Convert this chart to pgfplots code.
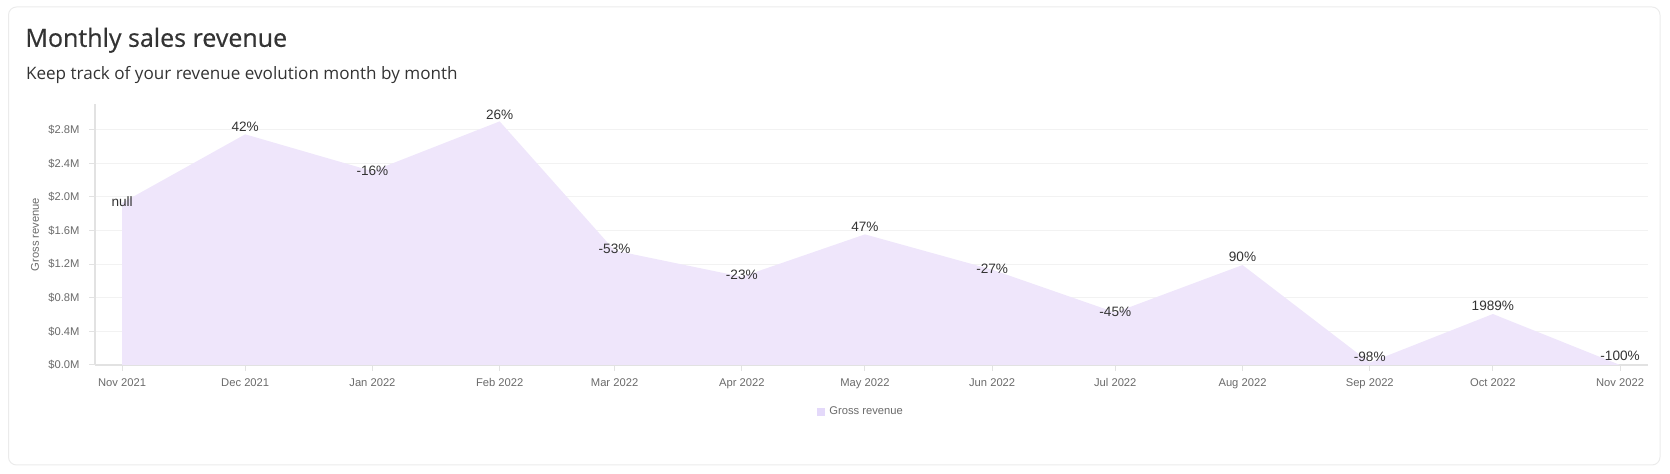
\documentclass[border=0pt]{standalone}
\usepackage{fontspec}
\setmainfont{Open Sans}
\newfontfamily\titlef[FakeBold=0.5]{Open Sans}
\newfontfamily\tickf{Liberation Sans}
\usepackage{pgfplots}
\usepackage{pgfplotstable}
\pgfplotsset{compat=1.18}
\definecolor{lav}{HTML}{EFE6FB}
\definecolor{legsq}{HTML}{E4D9FA}
\definecolor{axgray}{HTML}{E2E2E2}
\definecolor{gridgray}{HTML}{F2F2F2}
\definecolor{tickgray}{HTML}{6A6A6A}
\definecolor{labgray}{HTML}{333333}
\definecolor{titlegray}{HTML}{333333}
\definecolor{cardgray}{HTML}{EBEBEB}
\pgfplotstableread{
day rev lbl dy
0 1.93 null 0.5
30 2.746 42\% 4
61 2.307 -16\% 0
92 2.90 26\% 3.4
120 1.363 -53\% 1
151 1.05 -23\% 1
181 1.555 47\% 4
212 1.135 -27\% 0.5
242 0.625 -45\% 0.5
273 1.19 90\% 4
304 0.029 -98\% 3
334 0.607 1989\% 4
365 0 -100\% 4.5
}\revdata
\begin{document}
\begin{tikzpicture}
\path[use as bounding box] (0,0) rectangle (835pt,237pt);
\draw[cardgray, line width=0.5pt, rounded corners=4pt] (4.25pt,4.5pt) rectangle (830pt,233.5pt);
\node[anchor=base west, inner sep=0, font=\titlef\fontsize{12.5}{15}\selectfont, text=titlegray] at (12.5pt,213.6pt) {Monthly sales revenue};
\node[anchor=base west, inner sep=0, font=\fontsize{8.55}{10}\selectfont, text=titlegray] at (12.8pt,197.3pt) {Keep track of your revenue evolution month by month};
\begin{axis}[
  at={(47.5pt,54.5pt)}, anchor=south west,
  scale only axis, width=776.5pt, height=130.5pt,
  xmin=-6.6, xmax=371.8, ymin=0, ymax=3.107,
  axis x line*=bottom, axis y line*=left,
  axis line style={-, draw=axgray, line width=0.6pt},
  xtick={0,30,61,92,120,151,181,212,242,273,304,334,365},
  xticklabels={Nov 2021,Dec 2021,Jan 2022,Feb 2022,Mar 2022,Apr 2022,May 2022,Jun 2022,Jul 2022,Aug 2022,Sep 2022,Oct 2022,Nov 2022},
  ytick={0,0.4,0.8,1.2,1.6,2.0,2.4,2.8},
  yticklabels={\$0.0M,\$0.4M,\$0.8M,\$1.2M,\$1.6M,\$2.0M,\$2.4M,\$2.8M},
  ymajorgrids, grid style={draw=gridgray, line width=0.5pt},
  tick style={draw=axgray, line width=0.5pt},
  major tick length=3pt, tick align=outside,
  ticklabel style={font=\tickf\fontsize{5.6}{7}\selectfont, text=tickgray},
  yticklabel style={xshift=-1.2pt},
  xticklabel style={yshift=-0.3pt},
  ylabel={Gross revenue},
  every axis y label/.style={at={(axis description cs:-0.0386,0.5)}, rotate=90, anchor=center, font=\tickf\fontsize{5.6}{7}\selectfont, text=tickgray},
  legend style={at={(axis description cs:0.494,-0.18)}, anchor=center, draw=none, fill=none, font=\tickf\fontsize{5.6}{7}\selectfont, text=tickgray},
  legend image code/.code={\fill[legsq] (0pt,-2pt) rectangle (4pt,2pt);},
  clip=false,
]
\addplot[fill=lav, draw=none] table[x=day,y=rev] {\revdata} \closedcycle;
\addlegendentry{Gross revenue}
\addplot[draw=none, mark=none, forget plot,
  nodes near coords, point meta=explicit symbolic,
  visualization depends on={\thisrow{dy}\as\dy},
  nodes near coords style={anchor=center, yshift=\dy, inner sep=0.5pt, font=\tickf\fontsize{6.8}{8}\selectfont, text=labgray}]
  table[x=day,y=rev,meta=lbl] {\revdata};
\end{axis}
\end{tikzpicture}
\end{document}
